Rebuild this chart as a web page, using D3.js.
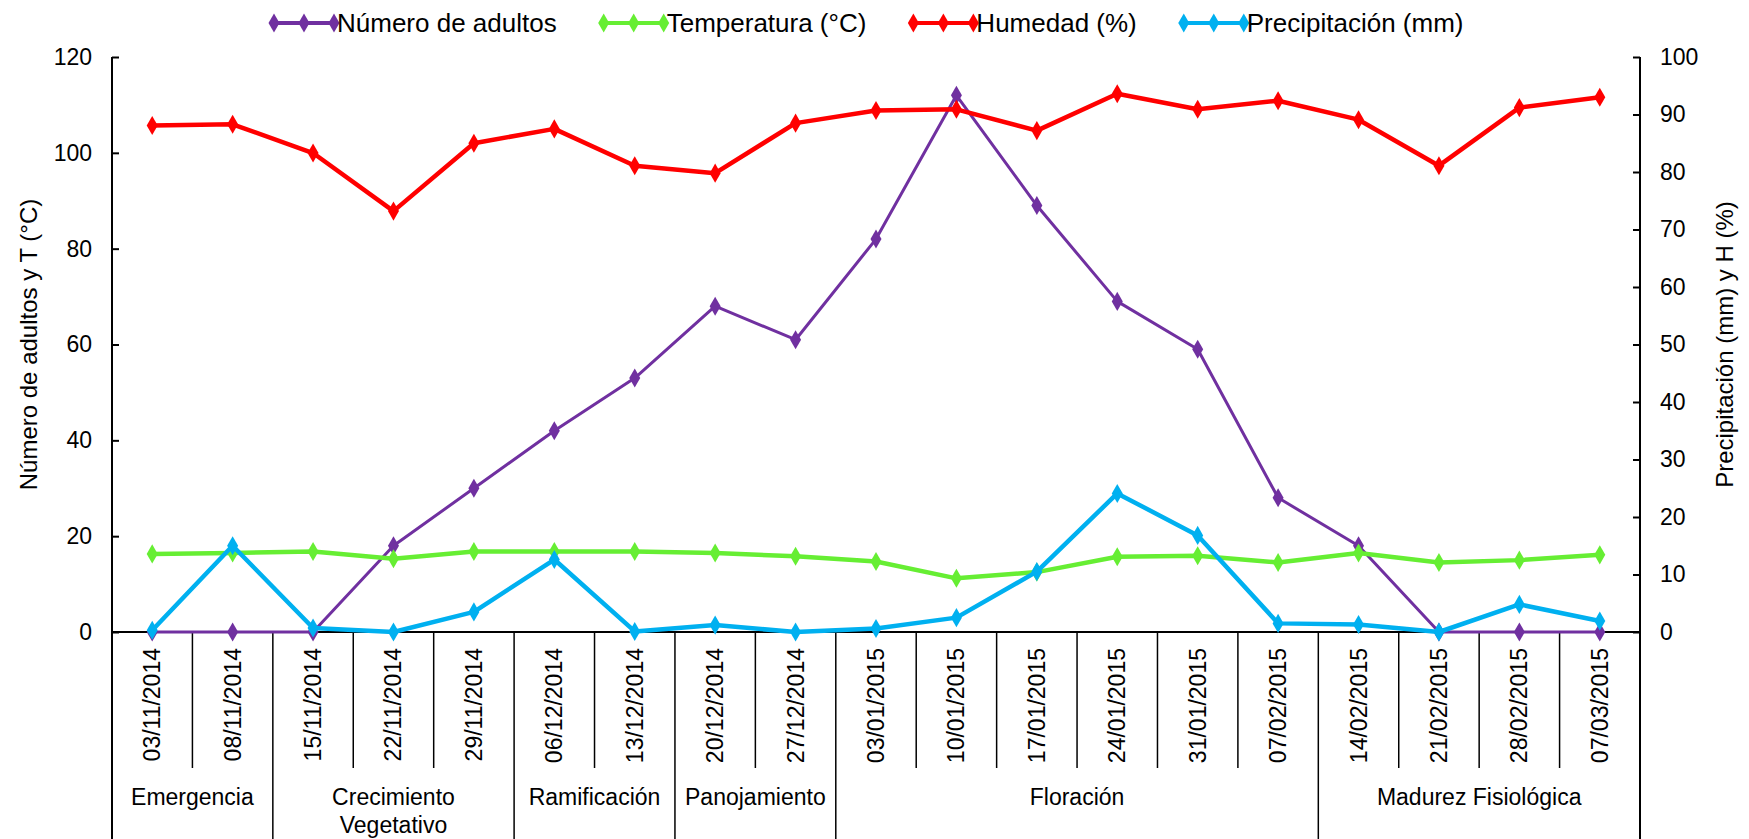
<!DOCTYPE html>
<html>
<head>
<meta charset="utf-8">
<script src="https://cdn.jsdelivr.net/npm/d3@7"></script>
<style>
  body { margin: 0; background: #fff; }
  svg text { font-family: "Liberation Sans", Arial, sans-serif; fill: #000; }
</style>
</head>
<body>
<div id="chart"></div>
<script>
// data
var fechas = ["03/11/2014", "08/11/2014", "15/11/2014", "22/11/2014", "29/11/2014",
    "06/12/2014", "13/12/2014", "20/12/2014", "27/12/2014", "03/01/2015",
    "10/01/2015", "17/01/2015", "24/01/2015", "31/01/2015", "07/02/2015",
    "14/02/2015", "21/02/2015", "28/02/2015", "07/03/2015"];
var etapas = ["Emergencia", "Crecimiento\nVegetativo", "Ramificación", "Panojamiento", "Floración", "Madurez Fisiológica"];
var etapaFechas = [2, 3, 2, 2, 6, 4];

var adultos = [0, 0, 0, 18, 30, 42, 53, 68, 61, 82, 112, 89, 69, 59, 28, 18, 0, 0, 0];
var temperatura = [16.3, 16.5, 16.8, 15.3, 16.8, 16.8, 16.8, 16.5, 15.8, 14.7, 11.2, 12.5, 15.7, 15.9, 14.5, 16.5, 14.5, 15.0, 16.1];
var humedad = [88.1, 88.3, 83.3, 73.2, 85.0, 87.5, 81.1, 79.8, 88.5, 90.7, 90.9, 87.2, 93.6, 90.9, 92.4, 89.1, 81.1, 91.2, 93.0];
var precipitacion = [0.3, 15.0, 0.7, 0, 3.5, 12.6, 0.1, 1.2, 0, 0.6, 2.5, 10.5, 24.1, 16.8, 1.5, 1.3, 0, 4.8, 1.9];

var ticksIzq = [0, 20, 40, 60, 80, 100, 120];
var ticksDer = [0, 10, 20, 30, 40, 50, 60, 70, 80, 90, 100];

var series = [
    { name: "Número de adultos", values: adultos, axis: "left", color: "#7030A0", width: 3 },
    { name: "Temperatura (°C)", values: temperatura, axis: "left", color: "#66EE33", width: 4.5 },
    { name: "Humedad (%)", values: humedad, axis: "right", color: "#FF0000", width: 4.5 },
    { name: "Precipitación (mm)", values: precipitacion, axis: "right", color: "#00B0F0", width: 4.5 }
];

var W = 1749, H = 839;
var pLeft = 112, pRight = 1640, pTop = 57, pBottom = 632;

var svg = d3.select("#chart").append("svg")
    .attr("width", W)
    .attr("height", H);

var x = d3.scaleBand()
    .domain(fechas)
    .range([pLeft, pRight])
    .padding(0);
var cx = d => x(d) + x.bandwidth() / 2;

var yL = d3.scaleLinear().domain([0, 120]).range([pBottom, pTop]);
var yR = d3.scaleLinear().domain([0, 100]).range([pBottom, pTop]);

// left axis, ticks pointing inward
var axL = svg.append("g")
    .attr("transform", "translate(" + pLeft + ",0)")
    .call(d3.axisRight(yL).tickValues(ticksIzq).tickSize(7));
axL.select(".domain").remove();
axL.selectAll("line").attr("stroke", "#000").attr("stroke-width", 2);
axL.selectAll("text")
    .attr("text-anchor", "end")
    .attr("x", -20)
    .style("font-size", "23px");

// right axis
var axR = svg.append("g")
    .attr("transform", "translate(" + pRight + ",0)")
    .call(d3.axisLeft(yR).tickValues(ticksDer).tickSize(7));
axR.select(".domain").remove();
axR.selectAll("line").attr("stroke", "#000").attr("stroke-width", 2);
axR.selectAll("text")
    .attr("text-anchor", "start")
    .attr("x", 20)
    .style("font-size", "23px");

// axis lines (run down through the category table)
svg.append("line").attr("x1", pLeft).attr("x2", pLeft).attr("y1", pTop).attr("y2", H)
    .attr("stroke", "#000").attr("stroke-width", 2);
svg.append("line").attr("x1", pRight).attr("x2", pRight).attr("y1", pTop).attr("y2", H)
    .attr("stroke", "#000").attr("stroke-width", 2);
svg.append("line").attr("x1", pLeft).attr("x2", pRight).attr("y1", pBottom).attr("y2", pBottom)
    .attr("stroke", "#000").attr("stroke-width", 2);

// separators between dates
var starts = [0];
etapaFechas.forEach((n, i) => starts.push(starts[i] + n));
svg.selectAll(".sep")
    .data(fechas.slice(1))
    .enter().append("line")
    .attr("class", "sep")
    .attr("x1", d => x(d)).attr("x2", d => x(d))
    .attr("y1", pBottom)
    .attr("y2", (d, i) => starts.indexOf(i + 1) >= 0 ? H : 768)
    .attr("stroke", "#000")
    .attr("stroke-width", 1.5);

// date labels
svg.selectAll(".fecha")
    .data(fechas)
    .enter().append("text")
    .attr("class", "fecha")
    .attr("transform", d => "translate(" + (cx(d) + 8) + "," + (pBottom + 16) + ") rotate(-90)")
    .attr("text-anchor", "end")
    .style("font-size", "23px")
    .text(d => d);

// stage labels
etapas.forEach((e, i) => {
    var a = x(fechas[starts[i]]);
    var b = x(fechas[starts[i + 1] - 1]) + x.bandwidth();
    var lines = e.split("\n");
    var t = svg.append("text")
        .attr("x", (a + b) / 2)
        .attr("y", 805)
        .attr("text-anchor", "middle")
        .style("font-size", "23px");
    lines.forEach((l, j) => {
        t.append("tspan").attr("x", (a + b) / 2).attr("dy", j == 0 ? 0 : 28).text(l);
    });
});

// series
var diamond = d3.symbol().type(d3.symbolDiamond).size(105);
series.forEach(s => {
    var y = s.axis == "left" ? yL : yR;
    var line = d3.line()
        .x((d, i) => cx(fechas[i]))
        .y(d => y(d));
    svg.append("path")
        .datum(s.values)
        .attr("fill", "none")
        .attr("stroke", s.color)
        .attr("stroke-width", s.width)
        .attr("stroke-linejoin", "round")
        .attr("d", line);
    svg.selectAll(null)
        .data(s.values)
        .enter().append("path")
        .attr("transform", (d, i) => "translate(" + cx(fechas[i]) + "," + y(d) + ")")
        .attr("d", diamond)
        .attr("fill", s.color);
});

// axis titles
svg.append("text")
    .attr("transform", "translate(" + 37 + "," + ((pTop + pBottom) / 2) + ") rotate(-90)")
    .attr("text-anchor", "middle")
    .style("font-size", "24px")
    .text("Número de adultos y T (°C)");

svg.append("text")
    .attr("transform", "translate(" + 1733 + "," + ((pTop + pBottom) / 2) + ") rotate(-90)")
    .attr("text-anchor", "middle")
    .style("font-size", "24px")
    .text("Precipitación (mm) y H (%)");

// legend
var lx = 274;
series.forEach(s => {
    var g = svg.append("g").attr("transform", "translate(" + lx + ",23)");
    g.append("line").attr("x1", 0).attr("x2", 60)
        .attr("stroke", s.color).attr("stroke-width", 4);
    [0, 30, 60].forEach(p => {
        g.append("path").attr("transform", "translate(" + p + ",0)")
            .attr("d", diamond).attr("fill", s.color);
    });
    var t = g.append("text")
        .attr("x", 63)
        .attr("dy", "0.35em")
        .style("font-size", "26px")
        .text(s.name);
    lx += 63 + t.node().getComputedTextLength() + 47;
});
</script>
</body>
</html>
